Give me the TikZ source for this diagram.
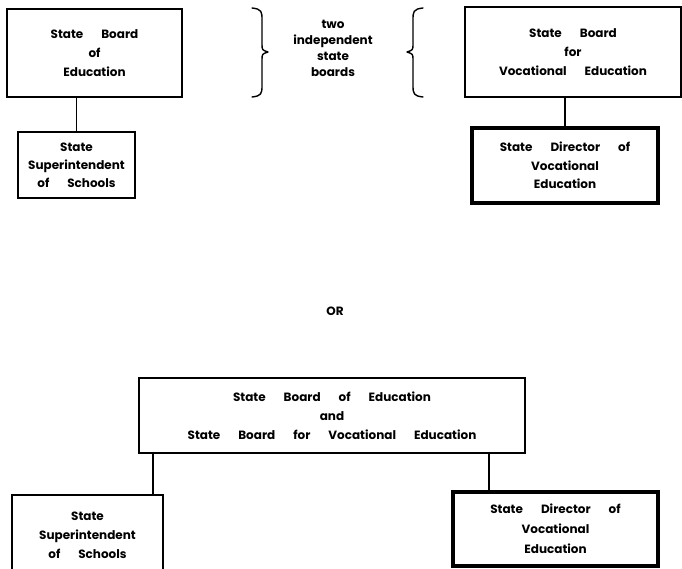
\documentclass[tikz,border=0pt]{standalone}
\usepackage{fontspec}
\setmainfont{Poppins}
\newcommand{\wsp}{\hspace{18pt}}
\begin{document}
\begin{tikzpicture}[x=1pt,y=-1pt,
  font=\fontsize{12}{19}\selectfont\bfseries,
  box/.style={draw, line width=1.3pt, align=center, inner sep=0pt},
  thickbox/.style={box, line width=3.6pt},
  conn/.style={line width=1.4pt},
  brace/.style={line width=1.4pt, line cap=round, line join=round}]
\useasboundingbox (0,0) rectangle (682,569);
\clip (0,0) rectangle (682,569);
% top alternative
\node[box, minimum width=175, minimum height=88] (sbe) at (94.5,53)
  {State\wsp Board\\of\\Education};
\node[box, minimum width=117, minimum height=66, font=\fontsize{12}{18}\selectfont\bfseries] (sup) at (76.5,165)
  {State\\Superintendent\\of\wsp Schools};
\node[box, minimum width=216, minimum height=90] (sbve) at (573,52)
  {State\wsp Board\\for\\Vocational\wsp Education};
\node[thickbox, minimum width=186, minimum height=75, font=\fontsize{12}{18.5}\selectfont\bfseries] (dir) at (565,165.5)
  {State\wsp Director\wsp of\\Vocational\\Education};
\draw[conn] (sup.north) -- (sup.north |- sbe.south);
\draw[conn] (dir.north) -- (dir.north |- sbve.south);
% braces
\draw[brace] (252,8) .. controls (262,9) and (262,12) .. (262,20) -- (262,44)
  .. controls (262,50) .. (268,52) .. controls (262,54) .. (262,60) -- (262,86)
  .. controls (262,94) and (261,96) .. (252,97);
\draw[brace] (423,8) .. controls (413,9) and (413,12) .. (413,20) -- (413,44)
  .. controls (413,50) .. (407,52) .. controls (413,54) .. (413,60) -- (413,86)
  .. controls (413,94) and (414,96) .. (423,97);
\node[align=center, font=\fontsize{12}{16}\selectfont\bfseries] (two) at (333,48)
  {two\\independent\\state\\boards};
% or
\node (or) at (335,311) {OR};
% bottom alternative
\node[box, minimum width=386, minimum height=75] (combo) at (332,415.5)
  {State\wsp Board\wsp of\wsp Education\\and\\State\wsp Board\wsp for\wsp Vocational\wsp Education};
\node[box, minimum width=151, minimum height=80] (sup2) at (87.5,535)
  {State\\Superintendent\\of\wsp Schools};
\node[thickbox, minimum width=205, minimum height=74, font=\fontsize{12}{20}\selectfont\bfseries] (dir2) at (555.5,529)
  {State\wsp Director\wsp of\\Vocational\\Education};
\coordinate (lj) at (153,0);
\coordinate (rj) at (489,0);
\draw[conn] (combo.south -| lj) -- (sup2.north -| lj);
\draw[conn] (combo.south -| rj) -- (dir2.north -| rj);
\end{tikzpicture}
\end{document}
